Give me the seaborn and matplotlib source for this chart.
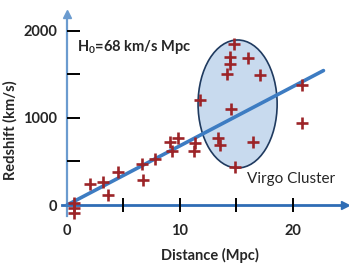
import matplotlib
matplotlib.use("Agg")
import matplotlib.pyplot as plt
import seaborn as sns
import pandas as pd
from matplotlib.patches import Ellipse

# ---- data ----
distance = [0.6, 0.6, 0.6, 2.0, 3.2, 3.6, 4.5, 6.6, 6.7, 7.8, 9.1, 9.8, 9.3,
            11.2, 11.3, 11.8, 13.4, 13.5, 14.5, 16.5, 14.9, 14.8, 14.4, 14.4,
            16.0, 14.2, 17.1, 20.8, 20.8]
redshift = [23, -35, -92, 241, 264, 115, 379, 471, 287, 529, 724, 770, 621,
            621, 713, 1207, 770, 690, 1103, 724, 437, 1851, 1701, 1621,
            1690, 1506, 1494, 1379, 943]
fit_x = [0.0, 22.7]
fit_y = [0.0, 1545.0]
xticks = [0, 5, 10, 15, 20]
xtick_labels = ["0", "", "10", "", "20"]
yticks = [0, 500, 1000, 1500, 2000]
ytick_labels = ["0", "", "1000", "", "2000"]
virgo_center = (15.1, 1161)
virgo_size = (7.0, 1471)

sns.set_style("white")
plt.rcParams["font.family"] = ["Lato", "DejaVu Sans"]
plt.rcParams["mathtext.default"] = "regular"

df = pd.DataFrame({"Distance": distance, "Redshift": redshift})
fit = pd.DataFrame({"x": fit_x, "y": fit_y})

fig = plt.figure(figsize=(3.49, 2.72), dpi=100)
ax = fig.add_axes([0, 0, 1, 1])
ax.set_xlim(-5.93, 24.96)
ax.set_ylim(-770, 2356)

ell = Ellipse(virgo_center, virgo_size[0], virgo_size[1], facecolor="#c8daee",
              edgecolor="#1f3a5f", lw=1.2, zorder=1)
ax.add_patch(ell)

sns.lineplot(data=fit, x="x", y="y", ax=ax, color="#3d7cc2", lw=2.6, zorder=2)
sns.scatterplot(data=df, x="Distance", y="Redshift", ax=ax, marker="+",
                s=70, color="#9c2428", linewidth=1.9, zorder=3)

# axes styling
for s in ["top", "right"]:
    ax.spines[s].set_visible(False)
ax.spines["left"].set_position(("data", 0))
ax.spines["bottom"].set_position(("data", 0))
ax.spines["left"].set_bounds(-126, 2180)
ax.spines["bottom"].set_bounds(-0.45, 24.5)
ax.spines["left"].set_color("#6b9bcf")
ax.spines["left"].set_linewidth(1.6)
ax.spines["bottom"].set_color("#2f6db5")
ax.spines["bottom"].set_linewidth(2.0)
ax.spines["left"].set_zorder(0.5)
ax.spines["bottom"].set_zorder(0.5)

ax.plot([0], [2200], marker="^", color="#6b9bcf", ms=6, clip_on=False, zorder=0.6)
ax.plot([24.6], [0], marker=">", color="#2f6db5", ms=6, clip_on=False, zorder=0.6)

ax.set_xticks(xticks)
ax.set_xticklabels(xtick_labels)
ax.set_yticks(yticks)
ax.set_yticklabels(ytick_labels)
ax.tick_params(axis="x", direction="inout", length=10, width=1.4, color="black",
               pad=9, labelsize=10.5, bottom=True)
ax.tick_params(axis="y", direction="in", length=9, width=1.4, color="black",
               pad=7, labelsize=10.5, left=True)
ax.xaxis.get_major_ticks()[0].tick1line.set_visible(False)
ax.yaxis.get_major_ticks()[0].tick1line.set_visible(False)
for lab in ax.get_xticklabels() + ax.get_yticklabels():
    lab.set_fontweight("bold")

ax.set_xlabel("")
ax.set_ylabel("")
fig.text(0.029, 0.522, "Redshift (km/s)", rotation=90,
         ha="center", va="center", fontsize=10.5, fontweight="bold")
fig.text(0.602, 0.062, "Distance (Mpc)", ha="center", va="center",
         fontsize=10.5, fontweight="bold")
ax.text(0.9, 1816, r"H$_0$=68 km/s Mpc", ha="left", va="center",
        fontsize=10.5, fontweight="bold")
ax.text(15.9, 300, "Virgo Cluster", ha="left", va="center", fontsize=11)

fig.savefig("out.png", dpi=100)
